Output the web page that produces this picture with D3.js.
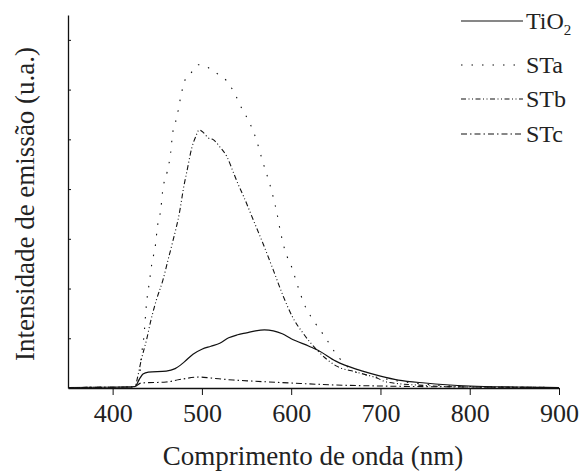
<!DOCTYPE html>
<html>
<head>
<meta charset="utf-8">
<script src="https://cdn.jsdelivr.net/npm/d3@7"></script>
<style>
  body { margin: 0; background: #fff; }
  svg { display: block; }
</style>
</head>
<body>
<svg id="chart" width="585" height="471"></svg>
<script>
// wavelength (nm) / intensity (a.u., one unit = one y tick)
const tio2 = [[350,0.01],[420,0.02],[425,0.03],[430,0.18],[434,0.28],[440,0.32],[460,0.34],[470,0.39],[480,0.52],[490,0.68],[500,0.78],[510,0.84],[520,0.90],[530,1.01],[540,1.07],[550,1.11],[560,1.15],[570,1.17],[580,1.15],[590,1.09],[600,0.99],[620,0.84],[630,0.76],[650,0.54],[660,0.46],[680,0.34],[700,0.24],[720,0.16],[750,0.10],[800,0.04],[850,0.02],[900,0.01]]
const sta = [[350,0.01],[420,0.02],[425,0.03],[430,0.22],[432,0.62],[435,1.03],[438,1.71],[441,2.11],[444,2.51],[448,2.88],[450,3.22],[454,3.60],[456,3.96],[461,4.34],[465,4.73],[467,5.09],[472,5.45],[476,5.83],[481,6.19],[486,6.29],[496,6.50],[506,6.45],[518,6.31],[528,6.17],[537,5.91],[545,5.61],[553,5.35],[561,4.99],[567,4.62],[579,3.90],[584,3.52],[588,3.14],[593,2.77],[601,2.41],[607,2.07],[615,1.67],[626,1.33],[637,1.05],[653,0.62],[670,0.34],[690,0.24],[720,0.14],[760,0.06],[800,0.03],[900,0.01]]
const stb = [[350,0.01],[420,0.02],[425,0.03],[428,0.22],[432,0.56],[438,0.97],[443,1.37],[449,1.77],[456,2.15],[462,2.57],[467,2.92],[475,3.54],[480,4.08],[483,4.34],[489,4.85],[493,5.05],[497,5.19],[502,5.13],[507,5.03],[513,4.99],[520,4.85],[528,4.65],[536,4.30],[541,4.08],[547,3.84],[558,3.36],[569,2.88],[580,2.37],[591,1.85],[602,1.41],[613,1.11],[629,0.76],[651,0.44],[673,0.32],[696,0.20],[707,0.12],[750,0.05],[800,0.02],[900,0.01]]
const stc = [[350,0.01],[420,0.02],[425,0.03],[432,0.10],[460,0.12],[475,0.17],[497,0.22],[510,0.20],[535,0.16],[555,0.14],[600,0.10],[650,0.06],[700,0.04],[800,0.02],[900,0.01]]

const seriesNames = ['TiO2', 'STa', 'STb', 'STc']
const xTicks = [400, 500, 600, 700, 800, 900]
const yTicks = [1, 2, 3, 4, 5, 6, 7]

const serif = '"Liberation Serif"'

const svg = d3.select('#chart')
const x = d3.scaleLinear().domain([350, 900]).range([68, 559])
const y = d3.scaleLinear().domain([0, 7.5]).range([388, 15])

let series = [
    {name: seriesNames[0], data: tio2, dash: null},
    {name: seriesNames[1], data: sta, dash: '1.5,9'},
    {name: seriesNames[2], data: stb, dash: '5,2.5,1,2.5,1,2.5'},
    {name: seriesNames[3], data: stc, dash: '6,3,1.5,3'}
]

let line = d3.line()
    .x(d => x(d[0]))
    .y(d => y(d[1]))
    .curve(d3.curveMonotoneX)

svg.append('g')
    .selectAll('path')
    .data(series)
    .enter()
    .append('path')
    .attr('d', d => line(d.data))
    .attr('fill', 'none')
    .attr('stroke', '#111')
    .attr('stroke-width', d => d.dash ? 1.1 : 1.2)
    .attr('stroke-dasharray', d => d.dash)

// x axis, ticks outward
let xAxis = svg.append('g')
    .attr('transform', 'translate(0,388)')
    .call(d3.axisBottom(x).tickValues(xTicks).tickSize(7).tickPadding(9).tickSizeOuter(0))
xAxis.attr('font-family', serif).attr('font-size', 26)
xAxis.select('.domain').attr('stroke', '#111').attr('stroke-width', 1.3)
xAxis.selectAll('.tick line').attr('stroke', '#111')
xAxis.selectAll('.tick text').attr('fill', '#222')

// y axis, ticks inward, no labels
let yAxis = svg.append('g')
    .attr('transform', 'translate(68,0)')
    .call(d3.axisRight(y).tickValues(yTicks).tickSize(3).tickFormat('').tickSizeOuter(0))
yAxis.select('.domain').attr('stroke', '#111').attr('stroke-width', 1.3)
yAxis.selectAll('.tick line').attr('stroke', '#111')

svg.append('text')
    .attr('x', 313)
    .attr('y', 465)
    .attr('text-anchor', 'middle')
    .attr('font-family', serif)
    .attr('font-size', 27)
    .attr('fill', '#222')
    .text('Comprimento de onda (nm)')

svg.append('text')
    .attr('transform', 'translate(34,204) rotate(-90)')
    .attr('text-anchor', 'middle')
    .attr('font-family', serif)
    .attr('font-size', 27)
    .attr('fill', '#222')
    .text('Intensidade de emissão (u.a.)')

// legend
let legendY = [21, 65, 99, 134]
let legend = svg.append('g')
    .selectAll('g')
    .data(series)
    .enter()
    .append('g')
    .attr('transform', (d, i) => `translate(0,${legendY[i]})`)

legend.append('line')
    .attr('x1', 461).attr('x2', 523)
    .attr('stroke', '#111')
    .attr('stroke-width', 1.1)
    .attr('stroke-dasharray', d => d.dash)

legend.append('text')
    .attr('x', 526)
    .attr('y', 8)
    .attr('font-family', serif)
    .attr('font-size', 24)
    .attr('fill', '#222')
    .each(function(d){
        let t = d3.select(this)
        if (d.name === 'TiO2') {
            t.append('tspan').text('TiO')
            t.append('tspan').attr('dy', 6).attr('font-size', 15).text('2')
        } else {
            t.text(d.name)
        }
    })
</script>
</body>
</html>
